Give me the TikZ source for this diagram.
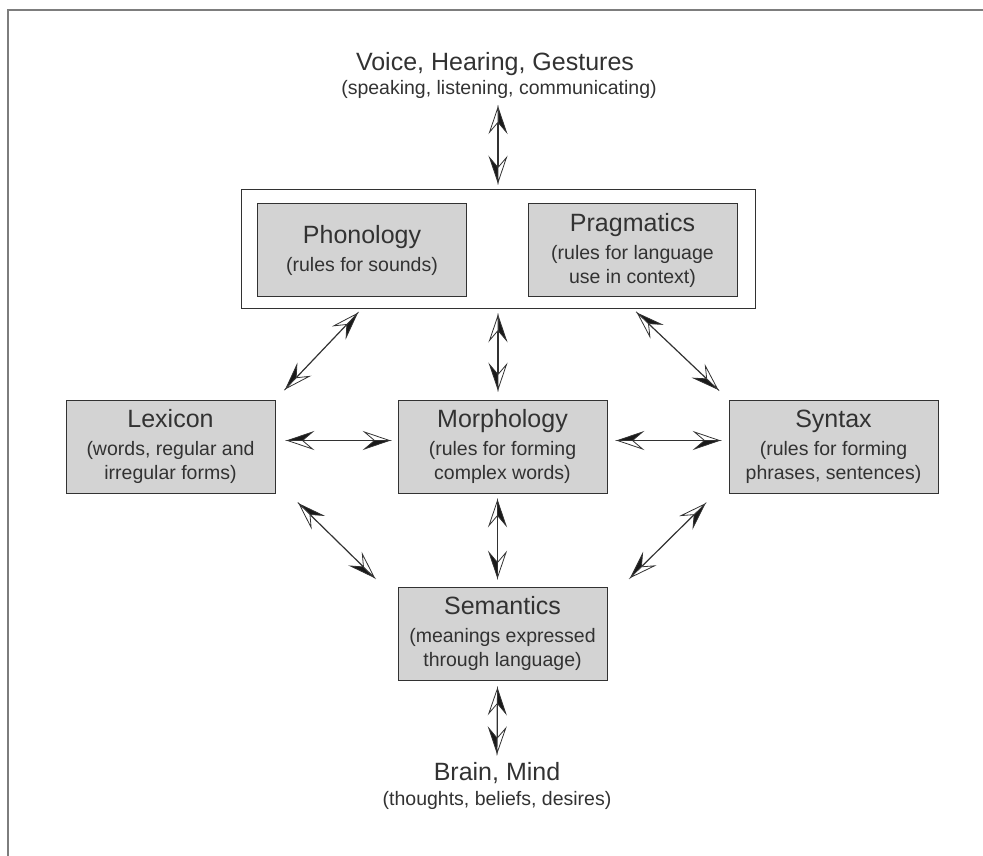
\documentclass[tikz,border=0pt]{standalone}
\usepackage{fontspec}
\setmainfont{Liberation Sans}
\usetikzlibrary{positioning}
\definecolor{boxgray}{RGB}{211,211,211}
\definecolor{inkgray}{RGB}{50,50,50}
\definecolor{framegray}{RGB}{125,125,125}
\newcommand\labhead{\fontsize{25}{28}\selectfont}
\newcommand\labsub{\fontsize{19.5}{24}\selectfont}

% half dark, half open arrow head
\pgfdeclarearrow{
  name = Duo,
  setup code = {
    \pgfarrowssettipend{0pt}
    \pgfarrowssetlineend{-14pt}
    \pgfarrowshullpoint{0pt}{0pt}
    \pgfarrowshullpoint{-25pt}{8.5pt}
    \pgfarrowshullpoint{-25pt}{-8.5pt}
  },
  drawing code = {
    \pgfsetdash{}{0pt}
    \pgfsetmiterjoin
    \pgfsetlinewidth{0.8pt}
    \pgfsetstrokecolor{inkgray}
    \pgfpathmoveto{\pgfqpoint{0pt}{0pt}}
    \pgfpathlineto{\pgfqpoint{-25pt}{-8.5pt}}
    \pgfpathlineto{\pgfqpoint{-15pt}{0pt}}
    \pgfpathclose
    \pgfsetfillcolor{black!90}
    \pgfusepathqfillstroke
    \pgfpathmoveto{\pgfqpoint{0pt}{0pt}}
    \pgfpathlineto{\pgfqpoint{-25pt}{8.5pt}}
    \pgfpathlineto{\pgfqpoint{-15pt}{0pt}}
    \pgfpathclose
    \pgfsetfillcolor{white}
    \pgfusepathqfillstroke
  }
}

\begin{document}
\begin{tikzpicture}[x=1pt, y=-1pt,
    rulebox/.style={draw=inkgray, fill=boxgray, line width=1pt,
      minimum width=209pt, minimum height=93pt, inner sep=0pt,
      align=center, text=inkgray, font=\labsub},
    freetext/.style={inner sep=0pt, text=inkgray},
    link/.style={Duo-Duo, draw=inkgray, line width=1.2pt}]
  \useasboundingbox (0,0) rectangle (983,856);
  \draw[framegray, line width=2pt] (983,10) -- (8,10) -- (8,856);

  % top and bottom
  \node[freetext, font=\labhead] (voice) at (495,64) {Voice, Hearing, Gestures};
  \node[freetext, font=\labsub] (voicesub) at (499,89) {(speaking, listening, communicating)};
  \node[freetext, font=\labhead] (brain) at (497,773) {Brain, Mind};
  \node[freetext, font=\labsub] (brainsub) at (497,800) {(thoughts, beliefs, desires)};

  % boxes
  \node[draw=inkgray, line width=1pt, minimum width=514pt, minimum height=118pt]
    (outer) at (498,249) {};
  \node[rulebox] (phon) at (362,250)
    {{\labhead Phonology}\\[4pt] (rules for sounds)};
  \node[rulebox] (prag) at (632.5,250)
    {{\labhead Pragmatics}\\[4pt] (rules for language\\ use in context)};
  \node[rulebox] (lex) at (170.5,446.5)
    {{\labhead Lexicon}\\[4pt] (words, regular and\\ irregular forms)};
  \node[rulebox] (morph) at (502.5,446.5)
    {{\labhead Morphology}\\[4pt] (rules for forming\\ complex words)};
  \node[rulebox] (syn) at (833.5,446.5)
    {{\labhead Syntax}\\[4pt] (rules for forming\\ phrases, sentences)};
  \node[rulebox] (sem) at (502.5,633.5)
    {{\labhead Semantics}\\[4pt] (meanings expressed\\ through language)};

  % connectors
  \draw[link, shorten <=9pt, shorten >=7pt] (voicesub.south -| outer) -- (outer.north);
  \draw[link, shorten <=7pt, shorten >=10pt] (outer.south) -- (outer.south |- morph.north);
  \draw[link, shorten <=7pt, shorten >=15pt] (phon |- outer.south) -- (lex.north east);
  \draw[link, shorten <=7pt, shorten >=15pt] (prag |- outer.south) -- (syn.north west);
  \draw[link, shorten <=12pt, shorten >=8pt] ([yshift=6pt]lex.east) -- ([yshift=6pt]morph.west);
  \draw[link, shorten <=10pt, shorten >=9pt] ([yshift=6pt]morph.east) -- ([yshift=6pt]syn.west);
  \draw[link, shorten <=7pt, shorten >=9pt] ([xshift=-5pt]morph.south) -- ([xshift=-5pt]sem.north);
  \draw[link, shorten <=15pt, shorten >=13pt] ([xshift=13pt]lex.south east) -- ([xshift=-14pt]sem.north west);
  \draw[link, shorten <=15pt, shorten >=13pt] ([xshift=-13pt]syn.south west) -- ([xshift=14pt]sem.north east);
  \draw[link, shorten <=8pt, shorten >=9pt] ([xshift=-5pt]sem.south) -- (brain.north);
\end{tikzpicture}
\end{document}
